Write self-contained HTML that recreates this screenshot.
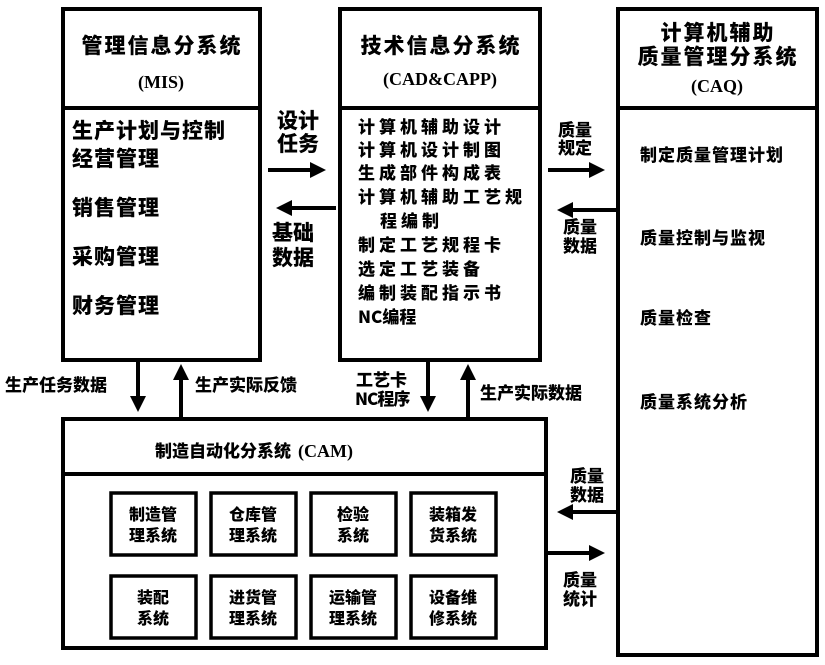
<!DOCTYPE html>
<html><head><meta charset="utf-8"><style>
body{margin:0;background:#fff;}
svg text{font-family:"Liberation Serif","Noto Sans CJK SC",serif;font-weight:bold;fill:#000;}
.c{font-family:"Noto Sans CJK SC","WenQuanYi Zen Hei",sans-serif;font-weight:900;}
</style></head><body>
<svg width="825" height="660" viewBox="0 0 825 660" xmlns="http://www.w3.org/2000/svg">
<defs>
<marker id="a" markerWidth="4" markerHeight="4" refX="2" refY="2" orient="auto" markerUnits="strokeWidth"><path d="M0,0 L4,2 L0,4 z" fill="#000"/></marker>
</defs>
<g fill="none" stroke="#000" stroke-width="4">
<rect x="63" y="9" width="197" height="351"/><line x1="63" y1="108" x2="260" y2="108"/>
<rect x="340" y="9" width="200" height="351"/><line x1="340" y1="108" x2="540" y2="108"/>
<rect x="618" y="9" width="199" height="646"/><line x1="618" y1="108" x2="817" y2="108"/>
<rect x="63" y="419" width="483" height="229"/><line x1="63" y1="474" x2="546" y2="474"/>
</g>
<g fill="none" stroke="#000" stroke-width="3.5">
<rect x="111" y="493" width="85" height="62"/><rect x="211" y="493" width="85" height="62"/>
<rect x="311" y="493" width="85" height="62"/><rect x="411" y="493" width="85" height="62"/>
<rect x="111" y="576" width="85" height="62"/><rect x="211" y="576" width="85" height="62"/>
<rect x="311" y="576" width="85" height="62"/><rect x="411" y="576" width="85" height="62"/>
</g>
<g stroke="#000" stroke-width="4" marker-end="url(#a)">
<line x1="268" y1="170" x2="318" y2="170"/>
<line x1="336" y1="208" x2="284" y2="208"/>
<line x1="548" y1="170" x2="597" y2="170"/>
<line x1="617" y1="210" x2="565" y2="210"/>
<line x1="617" y1="512" x2="565" y2="512"/>
<line x1="546" y1="553" x2="597" y2="553"/>
<line x1="138" y1="360" x2="138" y2="404"/>
<line x1="181" y1="419" x2="181" y2="372"/>
<line x1="428" y1="360" x2="428" y2="404"/>
<line x1="468" y1="419" x2="468" y2="372"/>
</g>
<g class="c" font-size="21" letter-spacing="2">
<text x="162" y="53" text-anchor="middle" class="c">管理信息分系统</text>
<text x="441" y="53" text-anchor="middle" class="c">技术信息分系统</text>
<text x="718" y="40" text-anchor="middle" class="c">计算机辅助</text>
<text x="718" y="64" text-anchor="middle" class="c">质量管理分系统</text>
<text x="72" y="138" class="c" letter-spacing="1">生产计划与控制</text>
<text x="72" y="166" class="c" letter-spacing="1">经营管理</text>
<text x="72" y="215" class="c" letter-spacing="1">销售管理</text>
<text x="72" y="264" class="c" letter-spacing="1">采购管理</text>
<text x="72" y="313" class="c" letter-spacing="1">财务管理</text>
<text x="277" y="128" class="c" letter-spacing="0">设计</text>
<text x="277" y="151" class="c" letter-spacing="0">任务</text>
<text x="272" y="240" class="c" letter-spacing="0">基础</text>
<text x="272" y="265" class="c" letter-spacing="0">数据</text>
</g>
<g font-weight="normal">
<text x="161" y="88" text-anchor="middle" font-size="18" font-weight="normal">(MIS)</text>
<text x="440" y="85" text-anchor="middle" font-size="18" font-weight="normal">(CAD&amp;CAPP)</text>
<text x="717" y="92" text-anchor="middle" font-size="18" font-weight="normal">(CAQ)</text>
</g>
<g class="c" font-size="17" letter-spacing="4">
<text x="358" y="133" class="c">计算机辅助设计</text>
<text x="358" y="156" class="c">计算机设计制图</text>
<text x="358" y="179" class="c">生成部件构成表</text>
<text x="358" y="203" class="c">计算机辅助工艺规</text>
<text x="380" y="227" class="c">程编制</text>
<text x="358" y="251" class="c">制定工艺规程卡</text>
<text x="358" y="275" class="c">选定工艺装备</text>
<text x="358" y="299" class="c">编制装配指示书</text>
<text x="358" y="323" class="c" letter-spacing="0">NC编程</text>
<text x="640" y="161" class="c" letter-spacing="1">制定质量管理计划</text>
<text x="640" y="244" class="c" letter-spacing="1">质量控制与监视</text>
<text x="640" y="324" class="c" letter-spacing="1">质量检查</text>
<text x="640" y="408" class="c" letter-spacing="1">质量系统分析</text>
</g>
<g class="c" font-size="17">
<text x="5" y="391" class="c">生产任务数据</text>
<text x="195" y="391" class="c">生产实际反馈</text>
<text x="480" y="399" class="c">生产实际数据</text>
<text x="356" y="386" class="c">工艺卡</text>
<text x="355" y="405" class="c" letter-spacing="-1">NC程序</text>
<text x="558" y="136" class="c">质量</text>
<text x="558" y="154" class="c">规定</text>
<text x="563" y="233" class="c">质量</text>
<text x="563" y="252" class="c">数据</text>
<text x="570" y="482" class="c">质量</text>
<text x="570" y="501" class="c">数据</text>
<text x="563" y="586" class="c">质量</text>
<text x="563" y="605" class="c">统计</text>
<text x="155" y="457" class="c">制造自动化分系统</text>
</g>
<text x="298" y="457" font-size="18" font-weight="normal">(CAM)</text>
<g class="c" font-size="16" text-anchor="middle">
<text x="153" y="520" class="c">制造管</text><text x="153" y="541" class="c">理系统</text>
<text x="253" y="520" class="c">仓库管</text><text x="253" y="541" class="c">理系统</text>
<text x="353" y="520" class="c">检验</text><text x="353" y="541" class="c">系统</text>
<text x="453" y="520" class="c">装箱发</text><text x="453" y="541" class="c">货系统</text>
<text x="153" y="603" class="c">装配</text><text x="153" y="624" class="c">系统</text>
<text x="253" y="603" class="c">进货管</text><text x="253" y="624" class="c">理系统</text>
<text x="353" y="603" class="c">运输管</text><text x="353" y="624" class="c">理系统</text>
<text x="453" y="603" class="c">设备维</text><text x="453" y="624" class="c">修系统</text>
</g>
</svg>
</body></html>
